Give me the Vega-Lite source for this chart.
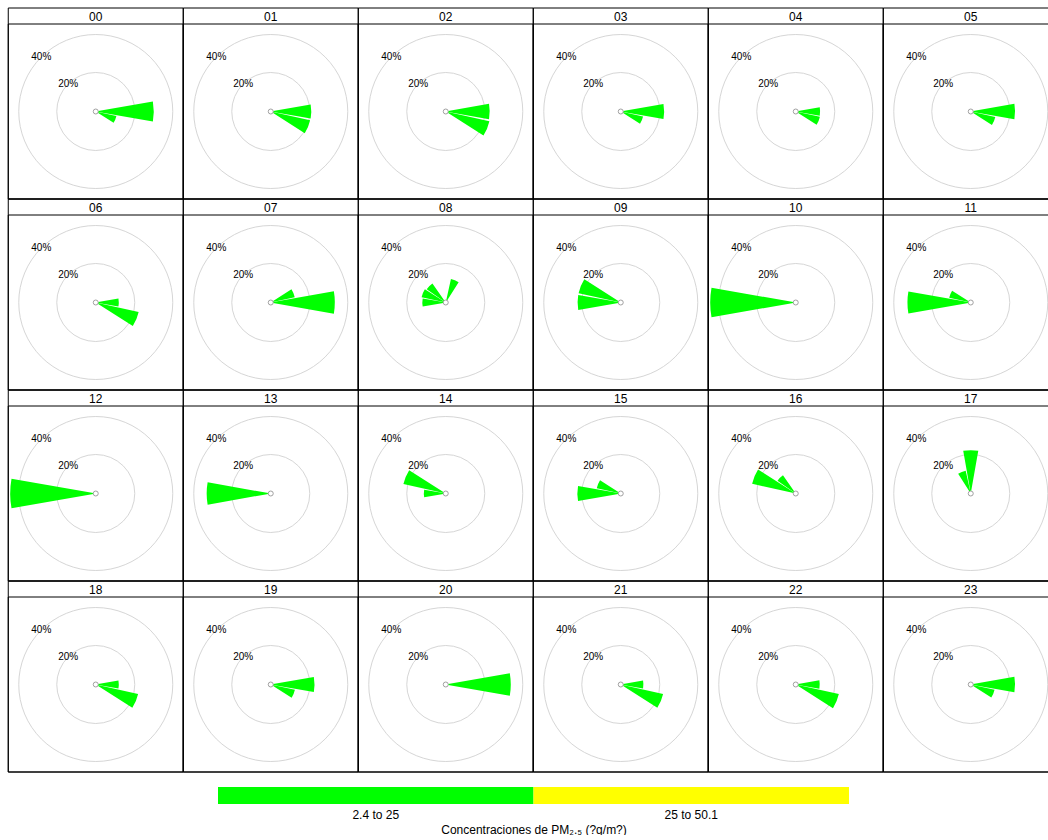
{
  "$schema": "https://vega.github.io/schema/vega-lite/v6.json",
  "padding": {"left": 7, "top": 7, "right": 0, "bottom": 0},
  "background": "white",
  "config": {
    "font": "Liberation Sans",
    "view": {"stroke": null},
    "header": {"labels": false, "title": null, "labelExpr": "''", "labelFontSize": 0, "labelPadding": 0},
    "headerFacet": {"labels": false, "title": null, "labelExpr": "''", "labelFontSize": 0, "labelPadding": 0}
  },
  "datasets": {
    "rose": [
      {"hour": "00", "kind": "wedge", "wd": 90, "pct": 30.0},
      {"hour": "00", "kind": "wedge", "wd": 112.5, "pct": 10.6},
      {"hour": "01", "kind": "wedge", "wd": 90, "pct": 20.8},
      {"hour": "01", "kind": "wedge", "wd": 112.5, "pct": 20.7},
      {"hour": "02", "kind": "wedge", "wd": 90, "pct": 22.6},
      {"hour": "02", "kind": "wedge", "wd": 112.5, "pct": 23.0},
      {"hour": "03", "kind": "wedge", "wd": 90, "pct": 22.3},
      {"hour": "03", "kind": "wedge", "wd": 112.5, "pct": 11.5},
      {"hour": "04", "kind": "wedge", "wd": 90, "pct": 12.3},
      {"hour": "04", "kind": "wedge", "wd": 112.5, "pct": 12.5},
      {"hour": "05", "kind": "wedge", "wd": 90, "pct": 22.8},
      {"hour": "05", "kind": "wedge", "wd": 112.5, "pct": 12.7},
      {"hour": "06", "kind": "wedge", "wd": 90, "pct": 11.6},
      {"hour": "06", "kind": "wedge", "wd": 112.5, "pct": 22.6},
      {"hour": "07", "kind": "wedge", "wd": 67.5, "pct": 12.4},
      {"hour": "07", "kind": "wedge", "wd": 90, "pct": 33.2},
      {"hour": "08", "kind": "wedge", "wd": 22.5, "pct": 12.1},
      {"hour": "08", "kind": "wedge", "wd": 270, "pct": 11.8},
      {"hour": "08", "kind": "wedge", "wd": 292.5, "pct": 12.5},
      {"hour": "08", "kind": "wedge", "wd": 315, "pct": 11.7},
      {"hour": "09", "kind": "wedge", "wd": 270, "pct": 22.2},
      {"hour": "09", "kind": "wedge", "wd": 292.5, "pct": 22.2},
      {"hour": "10", "kind": "wedge", "wd": 270, "pct": 44.5},
      {"hour": "11", "kind": "wedge", "wd": 270, "pct": 32.8},
      {"hour": "11", "kind": "wedge", "wd": 292.5, "pct": 11.1},
      {"hour": "12", "kind": "wedge", "wd": 270, "pct": 44.5},
      {"hour": "13", "kind": "wedge", "wd": 270, "pct": 33.2},
      {"hour": "14", "kind": "wedge", "wd": 270, "pct": 11.0},
      {"hour": "14", "kind": "wedge", "wd": 292.5, "pct": 22.3},
      {"hour": "15", "kind": "wedge", "wd": 270, "pct": 22.3},
      {"hour": "15", "kind": "wedge", "wd": 292.5, "pct": 12.4},
      {"hour": "16", "kind": "wedge", "wd": 292.5, "pct": 23.0},
      {"hour": "16", "kind": "wedge", "wd": 315, "pct": 11.2},
      {"hour": "17", "kind": "wedge", "wd": 0, "pct": 22.3},
      {"hour": "17", "kind": "wedge", "wd": 337.5, "pct": 11.8},
      {"hour": "18", "kind": "wedge", "wd": 90, "pct": 11.6},
      {"hour": "18", "kind": "wedge", "wd": 112.5, "pct": 22.3},
      {"hour": "19", "kind": "wedge", "wd": 90, "pct": 22.5},
      {"hour": "19", "kind": "wedge", "wd": 112.5, "pct": 12.5},
      {"hour": "20", "kind": "wedge", "wd": 90, "pct": 33.7},
      {"hour": "21", "kind": "wedge", "wd": 90, "pct": 11.4},
      {"hour": "21", "kind": "wedge", "wd": 112.5, "pct": 22.3},
      {"hour": "22", "kind": "wedge", "wd": 90, "pct": 12.1},
      {"hour": "22", "kind": "wedge", "wd": 112.5, "pct": 22.7},
      {"hour": "23", "kind": "wedge", "wd": 90, "pct": 22.8},
      {"hour": "23", "kind": "wedge", "wd": 112.5, "pct": 12.3},
      {"hour": "00", "kind": "ring", "pct": 20}, {"hour": "00", "kind": "ring", "pct": 40},
      {"hour": "01", "kind": "ring", "pct": 20}, {"hour": "01", "kind": "ring", "pct": 40},
      {"hour": "02", "kind": "ring", "pct": 20}, {"hour": "02", "kind": "ring", "pct": 40},
      {"hour": "03", "kind": "ring", "pct": 20}, {"hour": "03", "kind": "ring", "pct": 40},
      {"hour": "04", "kind": "ring", "pct": 20}, {"hour": "04", "kind": "ring", "pct": 40},
      {"hour": "05", "kind": "ring", "pct": 20}, {"hour": "05", "kind": "ring", "pct": 40},
      {"hour": "06", "kind": "ring", "pct": 20}, {"hour": "06", "kind": "ring", "pct": 40},
      {"hour": "07", "kind": "ring", "pct": 20}, {"hour": "07", "kind": "ring", "pct": 40},
      {"hour": "08", "kind": "ring", "pct": 20}, {"hour": "08", "kind": "ring", "pct": 40},
      {"hour": "09", "kind": "ring", "pct": 20}, {"hour": "09", "kind": "ring", "pct": 40},
      {"hour": "10", "kind": "ring", "pct": 20}, {"hour": "10", "kind": "ring", "pct": 40},
      {"hour": "11", "kind": "ring", "pct": 20}, {"hour": "11", "kind": "ring", "pct": 40},
      {"hour": "12", "kind": "ring", "pct": 20}, {"hour": "12", "kind": "ring", "pct": 40},
      {"hour": "13", "kind": "ring", "pct": 20}, {"hour": "13", "kind": "ring", "pct": 40},
      {"hour": "14", "kind": "ring", "pct": 20}, {"hour": "14", "kind": "ring", "pct": 40},
      {"hour": "15", "kind": "ring", "pct": 20}, {"hour": "15", "kind": "ring", "pct": 40},
      {"hour": "16", "kind": "ring", "pct": 20}, {"hour": "16", "kind": "ring", "pct": 40},
      {"hour": "17", "kind": "ring", "pct": 20}, {"hour": "17", "kind": "ring", "pct": 40},
      {"hour": "18", "kind": "ring", "pct": 20}, {"hour": "18", "kind": "ring", "pct": 40},
      {"hour": "19", "kind": "ring", "pct": 20}, {"hour": "19", "kind": "ring", "pct": 40},
      {"hour": "20", "kind": "ring", "pct": 20}, {"hour": "20", "kind": "ring", "pct": 40},
      {"hour": "21", "kind": "ring", "pct": 20}, {"hour": "21", "kind": "ring", "pct": 40},
      {"hour": "22", "kind": "ring", "pct": 20}, {"hour": "22", "kind": "ring", "pct": 40},
      {"hour": "23", "kind": "ring", "pct": 20}, {"hour": "23", "kind": "ring", "pct": 40}
    ],
    "legend": [
      {"range": "2.4 to 25"},
      {"range": "25 to 50.1"}
    ]
  },
  "vconcat": [
    {
      "data": {"name": "rose"},
      "columns": 6,
      "bounds": "flush",
      "spacing": {"row": 0, "column": 0},
      "facet": {
        "field": "hour",
        "type": "ordinal",
        "header": {"labels": false, "title": null, "labelExpr": "''", "labelFontSize": 0, "labelPadding": 0}
      },
      "spec": {
        "width": 175,
        "height": 191,
        "layer": [
          {
            "transform": [{"filter": "datum.kind == 'ring'"}],
            "mark": {"type": "arc", "fillOpacity": 0, "stroke": "#d6d6d6", "strokeWidth": 1, "yOffset": 8},
            "encoding": {
              "theta": {"datum": 0, "type": "quantitative", "scale": {"type": "linear", "domain": [0, 360], "range": [0, 6.283185307]}},
              "theta2": {"datum": 362},
              "radius": {"field": "pct", "type": "quantitative", "stack": null, "scale": {"type": "linear", "domain": [0, 40], "range": [1, 77]}}
            }
          },
          {
            "transform": [
              {"filter": "datum.kind == 'wedge'"},
              {"calculate": "datum.wd - 10", "as": "a1"},
              {"calculate": "datum.wd + 10", "as": "a2"}
            ],
            "mark": {"type": "arc", "color": "#00ff00", "yOffset": 8},
            "encoding": {
              "theta": {"field": "a1", "type": "quantitative", "stack": null, "scale": {"type": "linear", "domain": [0, 360], "range": [0, 6.283185307]}},
              "theta2": {"field": "a2"},
              "radius": {"field": "pct", "type": "quantitative", "stack": null, "scale": {"type": "linear", "domain": [0, 40], "range": [1, 77]}},
              "radius2": {"datum": 0}
            }
          },
          {
            "transform": [{"filter": "datum.kind == 'ring' && datum.pct == 20"}],
            "mark": {"type": "arc", "theta": 0, "theta2": 6.2832, "radius": 2.5, "fill": "white", "stroke": "#a0a0a0", "strokeWidth": 1, "yOffset": 8},
            "encoding": {}
          },
          {
            "transform": [
              {"filter": "datum.kind == 'ring'"},
              {"calculate": "datum.pct + '%'", "as": "label"}
            ],
            "mark": {"type": "text", "fontSize": 10, "color": "black", "align": "center", "baseline": "middle", "yOffset": 8},
            "encoding": {
              "theta": {"datum": 315, "type": "quantitative", "scale": {"type": "linear", "domain": [0, 360], "range": [0, 6.283185307]}},
              "radius": {"field": "pct", "type": "quantitative", "stack": null, "scale": {"type": "linear", "domain": [0, 40], "range": [1, 77]}},
              "text": {"field": "label"}
            }
          },
          {
            "transform": [{"filter": "datum.kind == 'ring' && datum.pct == 20"}],
            "mark": {"type": "rect", "fill": null, "fillOpacity": 0, "stroke": "black", "strokeWidth": 1},
            "encoding": {}
          },
          {
            "transform": [{"filter": "datum.kind == 'ring' && datum.pct == 20"}],
            "mark": {"type": "rect", "fill": null, "fillOpacity": 0, "stroke": "black", "strokeWidth": 1, "yOffset": 16},
            "encoding": {}
          },
          {
            "transform": [{"filter": "datum.kind == 'ring' && datum.pct == 20"}],
            "mark": {"type": "text", "fontSize": 12, "color": "black", "align": "center", "baseline": "alphabetic", "yOffset": -83},
            "encoding": {
              "text": {"field": "hour"}
            }
          }
        ]
      }
    },
    {
      "data": {"name": "legend"},
      "width": 631,
      "height": 17,
      "view": {"stroke": null},
      "mark": {"type": "bar"},
      "encoding": {
        "x": {
          "field": "range",
          "type": "nominal",
          "scale": {"paddingInner": 0, "paddingOuter": 0},
          "axis": {
            "title": "Concentraciones de PM₂.₅ (?g/m?)",
            "domain": false,
            "ticks": false,
            "labelAngle": 0,
            "labelFontSize": 12,
            "labelColor": "black",
            "labelPadding": 5,
            "titleFontSize": 12,
            "titleFontWeight": "normal",
            "titleColor": "black",
            "titlePadding": 4
          }
        },
        "color": {
          "field": "range",
          "type": "nominal",
          "scale": {"range": ["#00ff00", "#ffff00"]},
          "legend": null
        }
      }
    }
  ],
  "spacing": 14,
  "center": true
}
